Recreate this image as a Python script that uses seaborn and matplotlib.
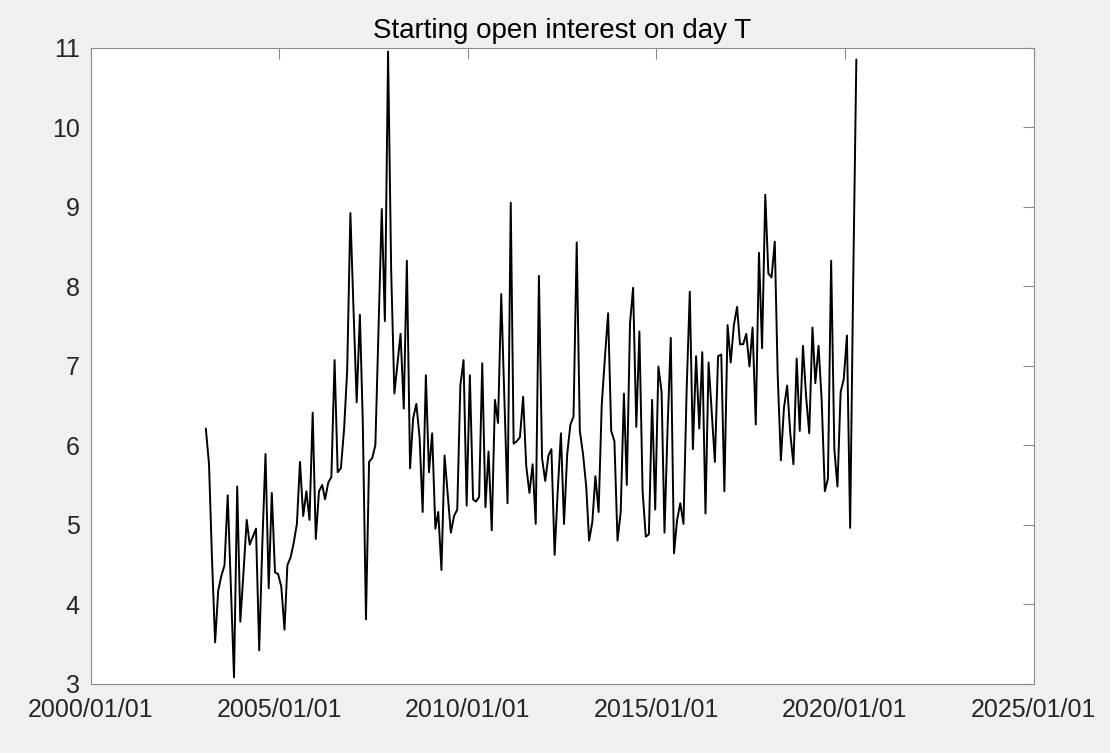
import pandas as pd
import numpy as np
import matplotlib
matplotlib.use("Agg")
import matplotlib.pyplot as plt
import matplotlib.dates as mdates
import seaborn as sns

# ==============================
# Data (monthly)
# ==============================
start_month = "2003-01-01"
open_interest = [
    6.21, 5.76, 4.60, 3.52, 4.17, 4.36, 4.49, 5.37, 4.22, 3.08,
    5.48, 3.78, 4.40, 5.06, 4.75, 4.85, 4.95, 3.42, 4.75, 5.89,
    4.20, 5.40, 4.40, 4.38, 4.22, 3.68, 4.49, 4.59, 4.77, 5.01,
    5.79, 5.11, 5.42, 5.06, 6.41, 4.82, 5.42, 5.50, 5.32, 5.53,
    5.60, 7.07, 5.66, 5.71, 6.20, 6.94, 8.92, 7.72, 6.54, 7.64,
    6.30, 3.81, 5.79, 5.84, 6.00, 7.46, 8.97, 7.56, 10.95, 8.20,
    6.65, 7.04, 7.40, 6.46, 8.32, 5.71, 6.34, 6.52, 6.10, 5.16,
    6.88, 5.66, 6.15, 4.95, 5.16, 4.43, 5.87, 5.37, 4.90, 5.11,
    5.19, 6.75, 7.07, 5.24, 6.88, 5.32, 5.29, 5.35, 7.03, 5.22,
    5.92, 4.93, 6.57, 6.28, 7.90, 6.60, 5.27, 9.05, 6.02, 6.05,
    6.10, 6.61, 5.74, 5.40, 5.76, 5.01, 8.13, 5.84, 5.55, 5.87,
    5.95, 4.62, 5.42, 6.15, 5.01, 5.89, 6.26, 6.36, 8.55, 6.18,
    5.89, 5.48, 4.80, 5.03, 5.61, 5.16, 6.50, 7.10, 7.66, 6.18,
    6.05, 4.80, 5.16, 6.65, 5.50, 7.53, 7.98, 6.23, 7.43, 5.42,
    4.85, 4.88, 6.57, 5.19, 6.99, 6.67, 4.90, 6.26, 7.35, 4.64,
    5.06, 5.27, 5.01, 6.67, 7.93, 5.95, 7.12, 6.21, 7.17, 5.14,
    7.04, 6.41, 5.79, 7.12, 7.14, 5.42, 7.51, 7.04, 7.51, 7.74,
    7.27, 7.27, 7.40, 6.99, 7.48, 6.26, 8.42, 7.22, 9.15, 8.16,
    8.11, 8.56, 6.90, 5.81, 6.47, 6.75, 6.15, 5.76, 7.09, 6.18,
    7.25, 6.62, 6.15, 7.48, 6.78, 7.25, 6.57, 5.42, 5.58, 8.32,
    5.95, 5.48, 6.67, 6.83, 7.38, 4.96, 8.00, 10.85,
]
tick_years = [2000, 2005, 2010, 2015, 2020, 2025]
y_ticks = [3, 4, 5, 6, 7, 8, 9, 10, 11]
title = "Starting open interest on day T"

dates = pd.date_range(start_month, periods=len(open_interest), freq="MS") + pd.Timedelta(days=19)
df = pd.DataFrame({"date": dates, "oi": open_interest})

# ==============================
# Style
# ==============================
sns.set_theme(style="white")
plt.rcParams["font.family"] = ["Liberation Sans", "DejaVu Sans"]

fig = plt.figure(figsize=(11.1, 7.53), dpi=100, facecolor="#f0f0f0")
ax = fig.add_axes([0.0817, 0.092, 0.8495, 0.8447])
ax.set_facecolor("white")

sns.lineplot(data=df, x="date", y="oi", ax=ax, color="black", linewidth=1.4)

# ==============================
# Axes formatting (MATLAB look)
# ==============================
ax.set_xlim(pd.Timestamp("2000-01-01"), pd.Timestamp("2025-01-01"))
ax.set_ylim(3, 11)
ax.set_xticks([pd.Timestamp(f"{y}-01-01") for y in tick_years])
ax.xaxis.set_major_formatter(mdates.DateFormatter("%Y/%m/%d"))
ax.set_yticks(y_ticks)
ax.set_xlabel("")
ax.set_ylabel("")

for sp in ax.spines.values():
    sp.set_color("#8a8a8a")
    sp.set_linewidth(0.8)

ax.tick_params(axis="both", direction="in", length=8, width=0.8, color="#8a8a8a",
               labelsize=18, labelcolor="#262626", top=True, right=True)
ax.tick_params(axis="x", pad=10)
ax.tick_params(axis="y", pad=8)

ax.set_title(title, fontsize=20, color="black", pad=7)

fig.savefig("out.png", dpi=100, facecolor=fig.get_facecolor())
